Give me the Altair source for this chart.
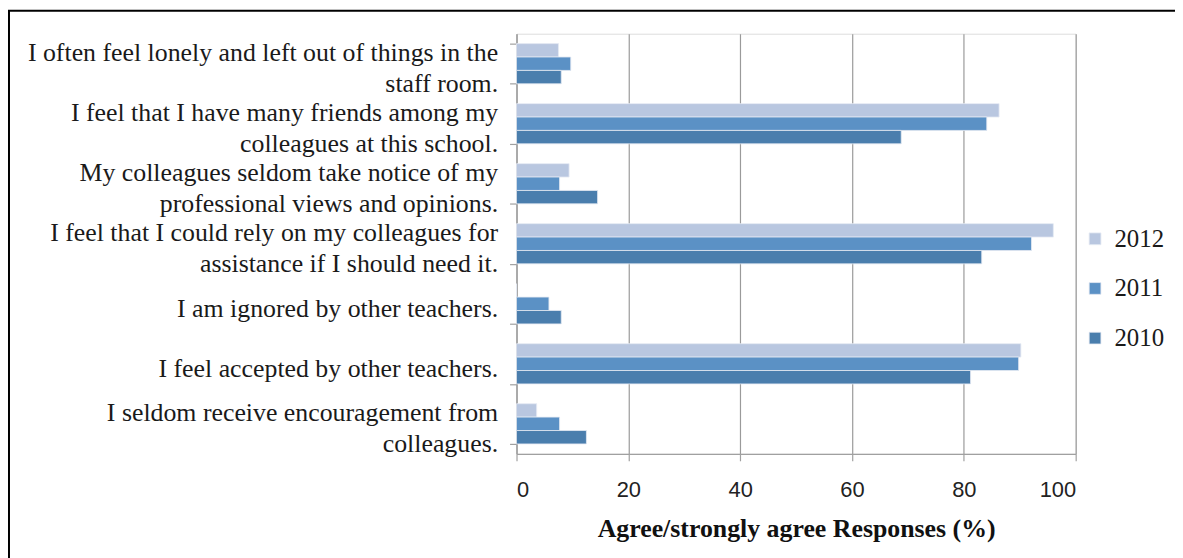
import altair as alt
import pandas as pd

categories = [
    "I often feel lonely and left out of things in the\nstaff room.",
    "I feel that I have many friends among my\ncolleagues at this school.",
    "My colleagues seldom take notice of my\nprofessional views and opinions.",
    "I feel that I could rely on my colleagues for\nassistance if I should need it.",
    "I am ignored by other teachers.",
    "I feel accepted by other teachers.",
    "I seldom receive encouragement from\ncolleagues.",
]
years = ["2012", "2011", "2010"]
values_2012 = [7.5, 86.3, 9.4, 96.0, 0.0, 90.2, 3.6]
values_2011 = [9.7, 84.1, 7.7, 92.1, 5.8, 89.8, 7.7]
values_2010 = [8.0, 68.8, 14.5, 83.2, 8.0, 81.2, 12.5]
colors = ["#b9c7e0", "#5b91c5", "#4a7ead"]
x_ticks = [0, 20, 40, 60, 80, 100]

rows = []
for yr, vals in zip(years, [values_2012, values_2011, values_2010]):
    for c, v in zip(categories, vals):
        rows.append({"category": c, "year": yr, "value": v})
df = pd.DataFrame(rows)

bars = alt.Chart(df).mark_bar(stroke="#e4eaf3", strokeWidth=0.8).encode(
    x=alt.X("value:Q",
            scale=alt.Scale(domain=[0, 100], nice=False),
            axis=alt.Axis(values=x_ticks, title="Agree/strongly agree Responses (%)",
                          grid=True, gridColor="#9a9a9a", gridWidth=1.2,
                          domainColor="#a0a0a0", domainWidth=1.2,
                          tickColor="#a0a0a0", tickSize=7, tickWidth=1.2,
                          labelFont="Liberation Sans", labelFontSize=22,
                          labelColor="#222222", labelPadding=19,
                          titleFont="Liberation Serif", titleFontSize=26,
                          titleFontWeight="bold", titleColor="#111111",
                          titlePadding=15)),
    y=alt.Y("category:N", sort=categories,
            scale=alt.Scale(paddingInner=0.33, paddingOuter=0.165),
            axis=alt.Axis(title=None, labelExpr="split(datum.label, '\\n')",
                          labelFont="Liberation Serif", labelFontSize=26,
                          labelLineHeight=31, labelColor="#1a1a1a",
                          labelPadding=12, labelLimit=700,
                          labelOffset={"condition": {"test": "indexof(datum.label, '\\n') >= 0",
                                                     "value": -11},
                                       "value": 4.5},
                          tickBand="extent", tickColor="#a0a0a0", tickSize=7,
                          tickWidth=1.2, domainColor="#a0a0a0", domainWidth=1.2)),
    yOffset=alt.YOffset("year:N", sort=years),
    color=alt.Color("year:N", sort=years,
                    scale=alt.Scale(domain=years, range=colors),
                    legend=alt.Legend(title=None, orient="none", legendX=570, legendY=194,
                                      symbolType="square", symbolSize=140,
                                      symbolStrokeColor="#e4eaf3", symbolStrokeWidth=0.8,
                                      labelFont="Liberation Serif", labelFontSize=25,
                                      labelColor="#1a1a1a", rowPadding=24,
                                      labelOffset=7)),
)

frame_data = alt.Data(values=[{"a": 1}])
frame_left = alt.Chart(frame_data).mark_rule(color="#000000", strokeWidth=2).encode(
    x=alt.value(-511), y=alt.value(-23), y2=alt.value(530))
frame_top = alt.Chart(frame_data).mark_rule(color="#000000", strokeWidth=2).encode(
    x=alt.value(-512), x2=alt.value(665), y=alt.value(-23))

chart = alt.layer(bars, frame_left, frame_top).properties(
    width=563, height=423,
    autosize=alt.AutoSizeParams(type="none"),
    padding={"left": 512, "top": 24, "right": 100, "bottom": 103},
).configure_view(stroke=None).configure(background="white")

chart.save("out.html", embed_options={"renderer": "svg", "actions": False})
